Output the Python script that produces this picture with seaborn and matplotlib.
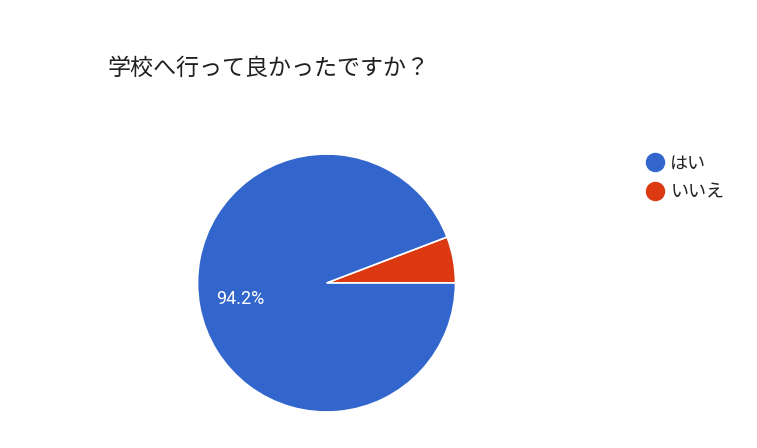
import matplotlib
matplotlib.use("Agg")
import matplotlib.pyplot as plt
import seaborn as sns
from matplotlib.lines import Line2D

# datos
categorias = ["はい", "いいえ"]
valores = [94.2, 5.8]
colores = ["#3366CC", "#DC3912"]
titulo = "学校へ行って良かったですか？"

sns.set_theme(style="white")
plt.rcParams["font.family"] = ["Noto Sans CJK JP", "DejaVu Sans"]

W, H = 757, 448
fig = plt.figure(figsize=(W / 100, H / 100), dpi=100)

# pie centrado en (326.5, 283) px, radio 129 px
cx, cy, r = 326.5, 283, 129
ax = fig.add_axes([(cx - r) / W, (H - cy - r) / H, 2 * r / W, 2 * r / H])

# orden: rojo primero para que quede entre 0° y ~21°
orden = [1, 0]
wedges, textos, autotextos = ax.pie(
    [valores[i] for i in orden],
    colors=[colores[i] for i in orden],
    startangle=0,
    counterclock=True,
    autopct=lambda p: f"{p:.1f}%" if p > 10 else "",
    pctdistance=0.68,
    wedgeprops=dict(edgecolor="white", linewidth=1.2),
    textprops=dict(color="white", fontsize=13, family=["Roboto", "DejaVu Sans"]),
)
ax.set_xlim(-1, 1)
ax.set_ylim(-1, 1)
ax.set_aspect("equal")
ax.axis("off")

fig.text(108 / W, 1 - 68 / H, titulo, fontsize=16.6, color="#212121", va="center", ha="left")

handles = [Line2D([0], [0], marker="o", color="none", markerfacecolor=c,
                  markeredgecolor=c, markersize=13) for c in colores]
fig.legend(handles, categorias, loc="upper left", bbox_to_anchor=(628 / W, 1 - 138 / H),
           frameon=False, fontsize=13, handletextpad=0.25, labelspacing=0.62,
           handlelength=1.2, labelcolor="#222222")

fig.savefig("out.png", dpi=100, facecolor="white")
